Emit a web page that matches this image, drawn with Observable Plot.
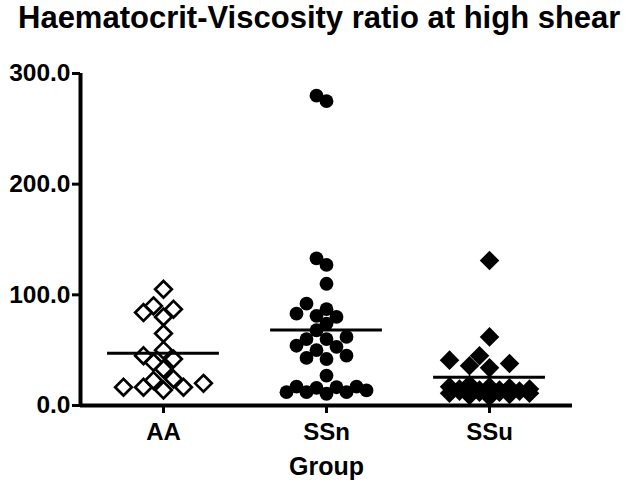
<!DOCTYPE html>
<html>
<head>
<meta charset="utf-8">
<script src="https://cdn.jsdelivr.net/npm/d3@7"></script>
<script src="https://cdn.jsdelivr.net/npm/@observablehq/plot@0.6"></script>
<style>
  html, body { margin: 0; padding: 0; background: #fff; }
  #title {
    height: 50px; line-height: 58px; padding-left: 18px;
    font: bold 31px "Liberation Sans", Arial, sans-serif;
    white-space: nowrap; color: #000;
  }
</style>
</head>
<body>
<div id="title">Haematocrit-Viscosity ratio at high shear</div>
<div id="chart"></div>
<script>
// ---- data ----
const groups = ["AA", "SSn", "SSu"];
const aaValues  = [105, 87, 84, 90, 80, 65, 50, 42, 39, 45, 33, 20, 16.5, 24, 14, 22.6, 16.5, 16.5];
const ssnValues = [280, 275, 127, 133, 110, 81, 74, 87, 92, 80, 83, 68, 62, 60, 60, 45, 54, 43, 50, 53, 42, 27,
                   12, 17, 13.6, 16, 10.6, 16.5, 12, 17, 12];
const ssuValues = [131, 62, 41, 36, 34, 38, 45,
                   8, 9, 10, 11, 11, 12, 12, 13, 13, 14, 14, 15, 15, 16, 17, 17, 19];
const yTicks = [0, 100, 200, 300];
const xTitle = "Group";

// ---- layout ----
const W = 635, H = 437;
const mt = 23, mb = 82, ml = 80, mr = 63;
const yDomain = [0, 300];
const xDomain = [-0.509, 2.509];
const yPix = (H - mt - mb) / (yDomain[1] - yDomain[0]);
const xPix = (W - ml - mr) / (xDomain[1] - xDomain[0]);

// GraphPad-like scatter spreading, computed from the values
function spread(values, T, step, maxK) {
  const order = d3.range(values.length).sort((a, b) => values[a] - values[b]);
  const cands = [0];
  for (let k = 1; k <= maxK; k++) cands.push(-k * step, k * step);
  const placed = [], off = new Array(values.length);
  for (const i of order) {
    const py = values[i] * yPix;
    let best = 0, bestCost = Infinity;
    for (const c of cands) {
      let cost = 0;
      for (const p of placed) {
        const d = Math.abs(c - p.x) + Math.abs(py - p.y);
        if (d < T) cost += T - d;
      }
      if (cost === 0) { best = c; break; }
      if (cost < bestCost - 1e-9) { bestCost = cost; best = c; }
    }
    placed.push({x: best, y: py});
    off[i] = best;
  }
  return off;
}

function rows(values, gi, T) {
  const off = spread(values, T, 10, 4);
  return values.map((v, i) => ({group: groups[gi], gi, value: v, x: gi + off[i] / xPix}));
}
const aaRows = rows(aaValues, 0, 16);
const ssnRows = rows(ssnValues, 1, 14);
const ssuRows = rows(ssuValues, 2, 16);
const means = [aaValues, ssnValues, ssuValues].map((vals, gi) => ({gi, mean: d3.mean(vals)}));

const font = "'Liberation Sans', Arial, sans-serif";

const chart = Plot.plot({
  width: W, height: H,
  marginTop: mt, marginBottom: mb, marginLeft: ml, marginRight: mr,
  style: {fontFamily: font, fontWeight: "bold", color: "#000", background: "#fff"},
  x: {type: "linear", domain: xDomain, axis: null},
  y: {domain: yDomain, axis: null},
  marks: [
    Plot.axisY({ticks: yTicks, tickFormat: d3.format(".1f"), tickSize: 8, tickPadding: 2,
                fontSize: 24.5, fontWeight: "bold", strokeWidth: 3, label: null}),
    Plot.axisX({ticks: [0, 1, 2], tickFormat: i => groups[i], tickSize: 8, tickPadding: 9,
                fontSize: 24, fontWeight: "bold", strokeWidth: 3, label: null}),
    Plot.ruleX([xDomain[0]], {y1: yDomain[0], y2: yDomain[1], strokeWidth: 4}),
    Plot.ruleY([0], {strokeWidth: 4}),
    Plot.dot(aaRows, {x: "x", y: "value", symbol: "diamond2", r: 7.5, stroke: "black", strokeWidth: 2.7, fill: "none"}),
    Plot.dot(ssnRows, {x: "x", y: "value", symbol: "circle", r: 6.9, fill: "black", stroke: "none"}),
    Plot.dot(ssuRows, {x: "x", y: "value", symbol: "diamond2", r: 8.8, fill: "black", stroke: "none"}),
    Plot.ruleY(means, {y: "mean", x1: d => d.gi - 0.343, x2: d => d.gi + 0.343, strokeWidth: 3}),
    Plot.text([xTitle], {frameAnchor: "bottom", dy: 69, fontSize: 25, fontWeight: "bold"})
  ]
});
document.getElementById("chart").appendChild(chart);
</script>
</body>
</html>
